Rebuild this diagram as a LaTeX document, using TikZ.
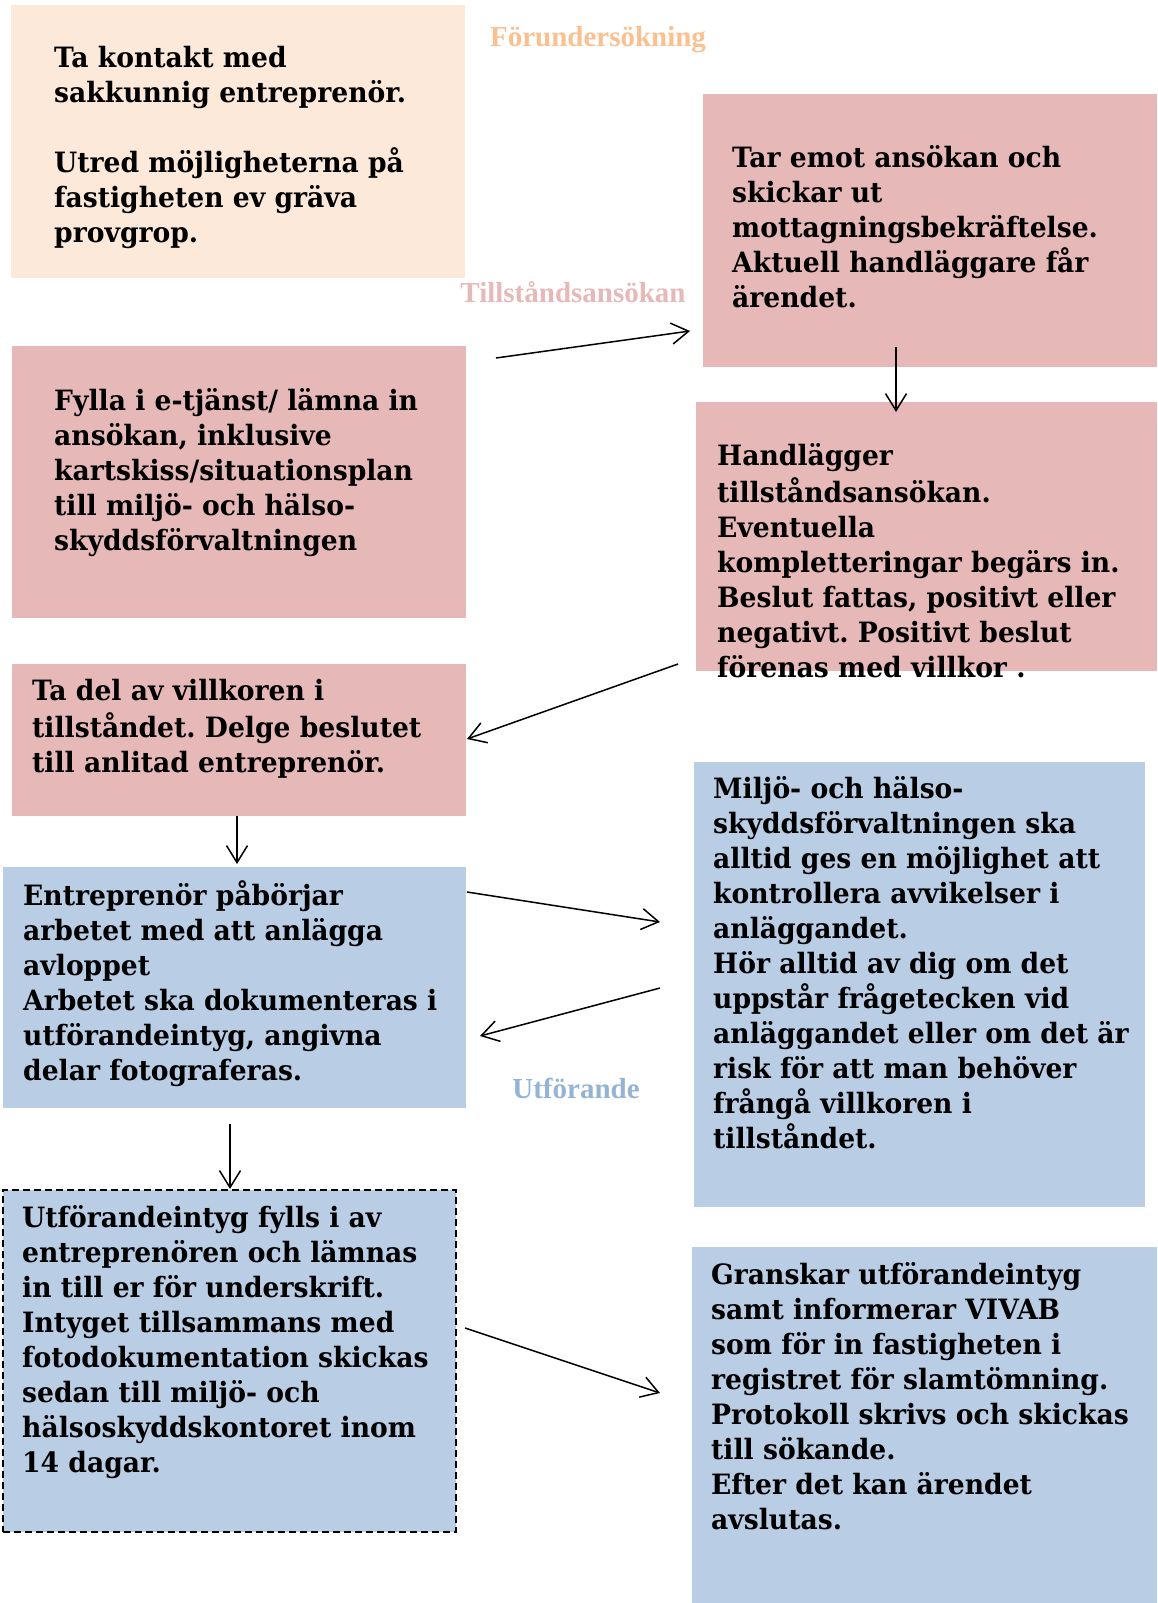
\documentclass[tikz,border=0pt]{standalone}
\usepackage{fontspec}
\setmainfont{DejaVu Serif}[FakeStretch=0.95]
\newfontfamily\rubrik{Liberation Serif}
\frenchspacing
\usetikzlibrary{arrows.meta}
\definecolor{persika}{HTML}{FDE9D9}
\definecolor{rosa}{HTML}{E6B9B8}
\definecolor{ljusbla}{HTML}{B9CDE5}
\definecolor{orangetext}{HTML}{FAC090}
\definecolor{blatext}{HTML}{95B3D7}
\tikzset{
  ruta/.style={anchor=north west, inner sep=0pt, outer sep=0pt},
  txt/.style={anchor=north west, inner sep=0pt, align=left,
    font=\fontsize{28}{35}\selectfont\bfseries},
  rubr/.style={anchor=base, inner sep=0pt,
    font=\rubrik\fontsize{29}{34}\selectfont\bfseries},
  pil/.style={line width=1.5pt, -{Straight Barb[length=17pt,width=21pt,line width=1.5pt]}}
}
\begin{document}
\begin{tikzpicture}[x=1pt,y=-1pt] % ------ Flödet för avloppsärendet -----------------
    \useasboundingbox (0,0) rectangle (1157,1603);
    % rutorna
    \node [ruta, fill=persika, minimum width=454, minimum height=273] (b1) at (11,5) {};
    \node [ruta, fill=rosa, minimum width=454, minimum height=273] (b2) at (703,94) {};
    \node [ruta, fill=rosa, minimum width=454, minimum height=272] (b3) at (12,346) {};
    \node [ruta, fill=rosa, minimum width=461, minimum height=269] (b4) at (696,402) {};
    \node [ruta, fill=rosa, minimum width=454, minimum height=152] (b5) at (12,664) {};
    \node [ruta, fill=ljusbla, minimum width=463, minimum height=241] (b6) at (3,867) {};
    \node [ruta, fill=ljusbla, minimum width=451, minimum height=445] (b7) at (694,762) {};
    \node [ruta, fill=ljusbla, draw, dash pattern=on 7pt off 4pt, line width=1.5pt,
      minimum width=453, minimum height=342] (b8) at (3,1190) {};
    \node [ruta, fill=ljusbla, minimum width=465, minimum height=356] (b9) at (692,1247) {};
    % rubriker
    \node [rubr, text=orangetext] (forund) at (598,47) {Förundersökning};
    \node [rubr, text=rosa] (tillst) at (573,302) {Tillståndsansökan};
    \node [rubr, text=blatext] (utfor) at (576,1098) {Utförande};
    % texterna
    \node [txt] (t1) at (54,43) {\strut Ta kontakt med\\ sakkunnig entreprenör.\\[35pt]
      Utred möjligheterna på\\ fastigheten ev gräva\\ provgrop.};
    \node [txt] (t2) at (732,143) {\strut Tar emot ansökan och\\ skickar ut\\
      mottagningsbekräftelse.\\ Aktuell handläggare får\\ ärendet.};
    \node [txt] (t3) at (54,386) {\strut Fylla i e-tjänst/ lämna in\\ ansökan, inklusive\\
      kartskiss/situationsplan\\ till miljö- och hälso-\\ skyddsförvaltningen};
    \node [txt] (t4) at (717,441) {\strut Handlägger\\ tillståndsansökan.\\ Eventuella\\
      kompletteringar begärs in.\\ Beslut fattas, positivt eller\\
      negativt. Positivt beslut\\ förenas med villkor .};
    \node [txt] (t5) at (32,676) {\strut Ta del av villkoren i\\ tillståndet. Delge beslutet\\
      till anlitad entreprenör.};
    \node [txt] (t6) at (23,880) {\strut Entreprenör påbörjar\\ arbetet med att anlägga\\
      avloppet\\ Arbetet ska dokumenteras i\\ utförandeintyg, angivna\\ delar fotograferas.};
    \node [txt] (t7) at (713,774) {\strut Miljö- och hälso-\\ skyddsförvaltningen ska\\
      alltid ges en möjlighet att\\ kontrollera avvikelser i\\ anläggandet.\\
      Hör alltid av dig om det\\ uppstår frågetecken vid\\ anläggandet eller om det är\\
      risk för att man behöver\\ frångå villkoren i\\ tillståndet.};
    \node [txt] (t8) at (22,1203) {\strut Utförandeintyg fylls i av\\ entreprenören och lämnas\\
      in till er för underskrift.\\ Intyget tillsammans med\\ fotodokumentation skickas\\
      sedan till miljö- och\\ hälsoskyddskontoret inom\\ 14 dagar.};
    \node [txt] (t9) at (711,1260) {\strut Granskar utförandeintyg\\ samt informerar VIVAB\\
      som för in fastigheten i\\ registret för slamtömning.\\ Protokoll skrivs och skickas\\
      till sökande.\\ Efter det kan ärendet\\ avslutas.};
    % pilarna
    \coordinate (p1a) at (496,358);  \coordinate (p1b) at (690,331);
    \coordinate (p2a) at (896,347);  \coordinate (p2b) at (896,412);
    \coordinate (p3a) at (678,664);  \coordinate (p3b) at (467,739);
    \coordinate (p4a) at (237,816);  \coordinate (p4b) at (237,864);
    \coordinate (p5a) at (467,892);  \coordinate (p5b) at (660,922);
    \coordinate (p6a) at (660,988);  \coordinate (p6b) at (480,1036);
    \coordinate (p7a) at (230,1124); \coordinate (p7b) at (230,1189);
    \coordinate (p8a) at (465,1328); \coordinate (p8b) at (660,1393);
    \draw [pil] (p1a) -- (p1b);
    \draw [pil] (p2a) -- (p2b);
    \draw [pil] (p3a) -- (p3b);
    \draw [pil] (p4a) -- (p4b);
    \draw [pil] (p5a) -- (p5b);
    \draw [pil] (p6a) -- (p6b);
    \draw [pil] (p7a) -- (p7b);
    \draw [pil] (p8a) -- (p8b);
\end{tikzpicture}
\end{document}
